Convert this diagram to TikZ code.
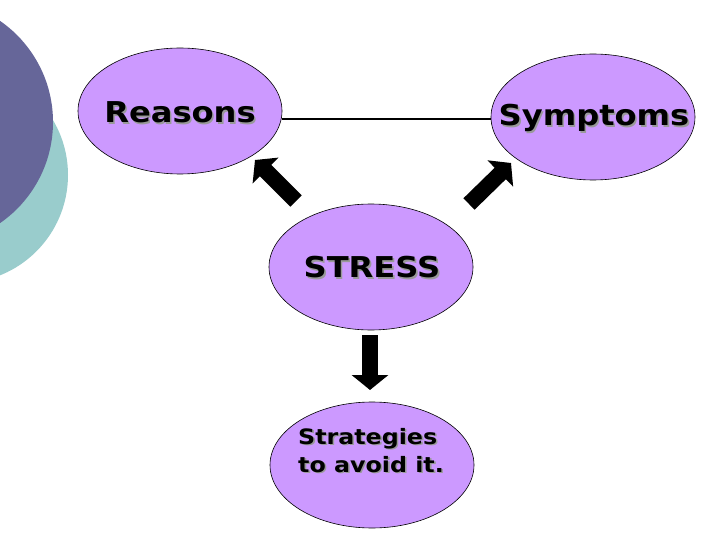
\documentclass[tikz,border=0pt]{standalone}
\usepackage{fontspec}
\newfontfamily\vfont{DejaVu Sans}[FakeStretch=1.12]
\usetikzlibrary{positioning,arrows.meta,shapes.geometric}
\definecolor{bubblefill}{HTML}{CC99FF}
\definecolor{deepslate}{HTML}{666699}
\definecolor{paleteal}{HTML}{99CCCC}
\newcommand{\shtext}[1]{\makebox[0pt][l]{\hspace{1.6pt}\raisebox{-1.6pt}{\textcolor{gray!80}{#1}}}#1}
\tikzset{
  bubble/.style={draw,ellipse,fill=bubblefill,minimum width=204pt,minimum height=126pt,inner sep=0pt,line width=0.6pt},
  lbl/.style={font=\vfont\bfseries\fontsize{28.7}{32}\selectfont,inner sep=0pt},
  smalllbl/.style={font=\vfont\bfseries\fontsize{21.2}{28}\selectfont,inner sep=0pt,align=left},
  bigarrow/.style={line width=16pt,-{Triangle[length=15pt,width=36pt]}},
}
\begin{document}
\begin{tikzpicture}[x=1pt,y=-1pt]
  \useasboundingbox (0,0) rectangle (720,540);
  % background discs
  \begin{scope}
    \clip (0,0) rectangle (720,540);
    \fill[paleteal] (-40,175) circle (108pt);
    \fill[deepslate] (-70,122) circle (123pt);
  \end{scope}
  % bubbles
  \node[bubble] (reasons) at (180,111) {};
  \node[bubble] (symptoms) at (593,117) {};
  \node[bubble] (stress) at (371,267) {};
  \node[bubble] (strategies) at (372,465) {};
  \node[lbl] (reasons-t) at (180,113) {\shtext{Reasons}};
  \node[lbl] (symptoms-t) at (594,119) {\shtext{Symptoms}};
  \node[lbl] (stress-t) at (372,268) {\shtext{STRESS}};
  \node[smalllbl] (strategies-t) at (371,451) {\shtext{Strategies}\\\shtext{to avoid it.}};
  \draw[line width=1.4pt] (reasons.east |- 0,119) -- (symptoms.west |- 0,119);
  % block arrows
  \coordinate (reasons-tail) at (296,201);
  \coordinate (reasons-tip) at (255,160);
  \coordinate (symptoms-tail) at (469,204);
  \coordinate (symptoms-tip) at (511,163);
  \coordinate (strategies-tail) at (370,335);
  \coordinate (strategies-tip) at (370,390);
  \draw[bigarrow] (reasons-tail) -- (reasons-tip);
  \draw[bigarrow] (symptoms-tail) -- (symptoms-tip);
  \draw[bigarrow] (strategies-tail) -- (strategies-tip);
\end{tikzpicture}
\end{document}
